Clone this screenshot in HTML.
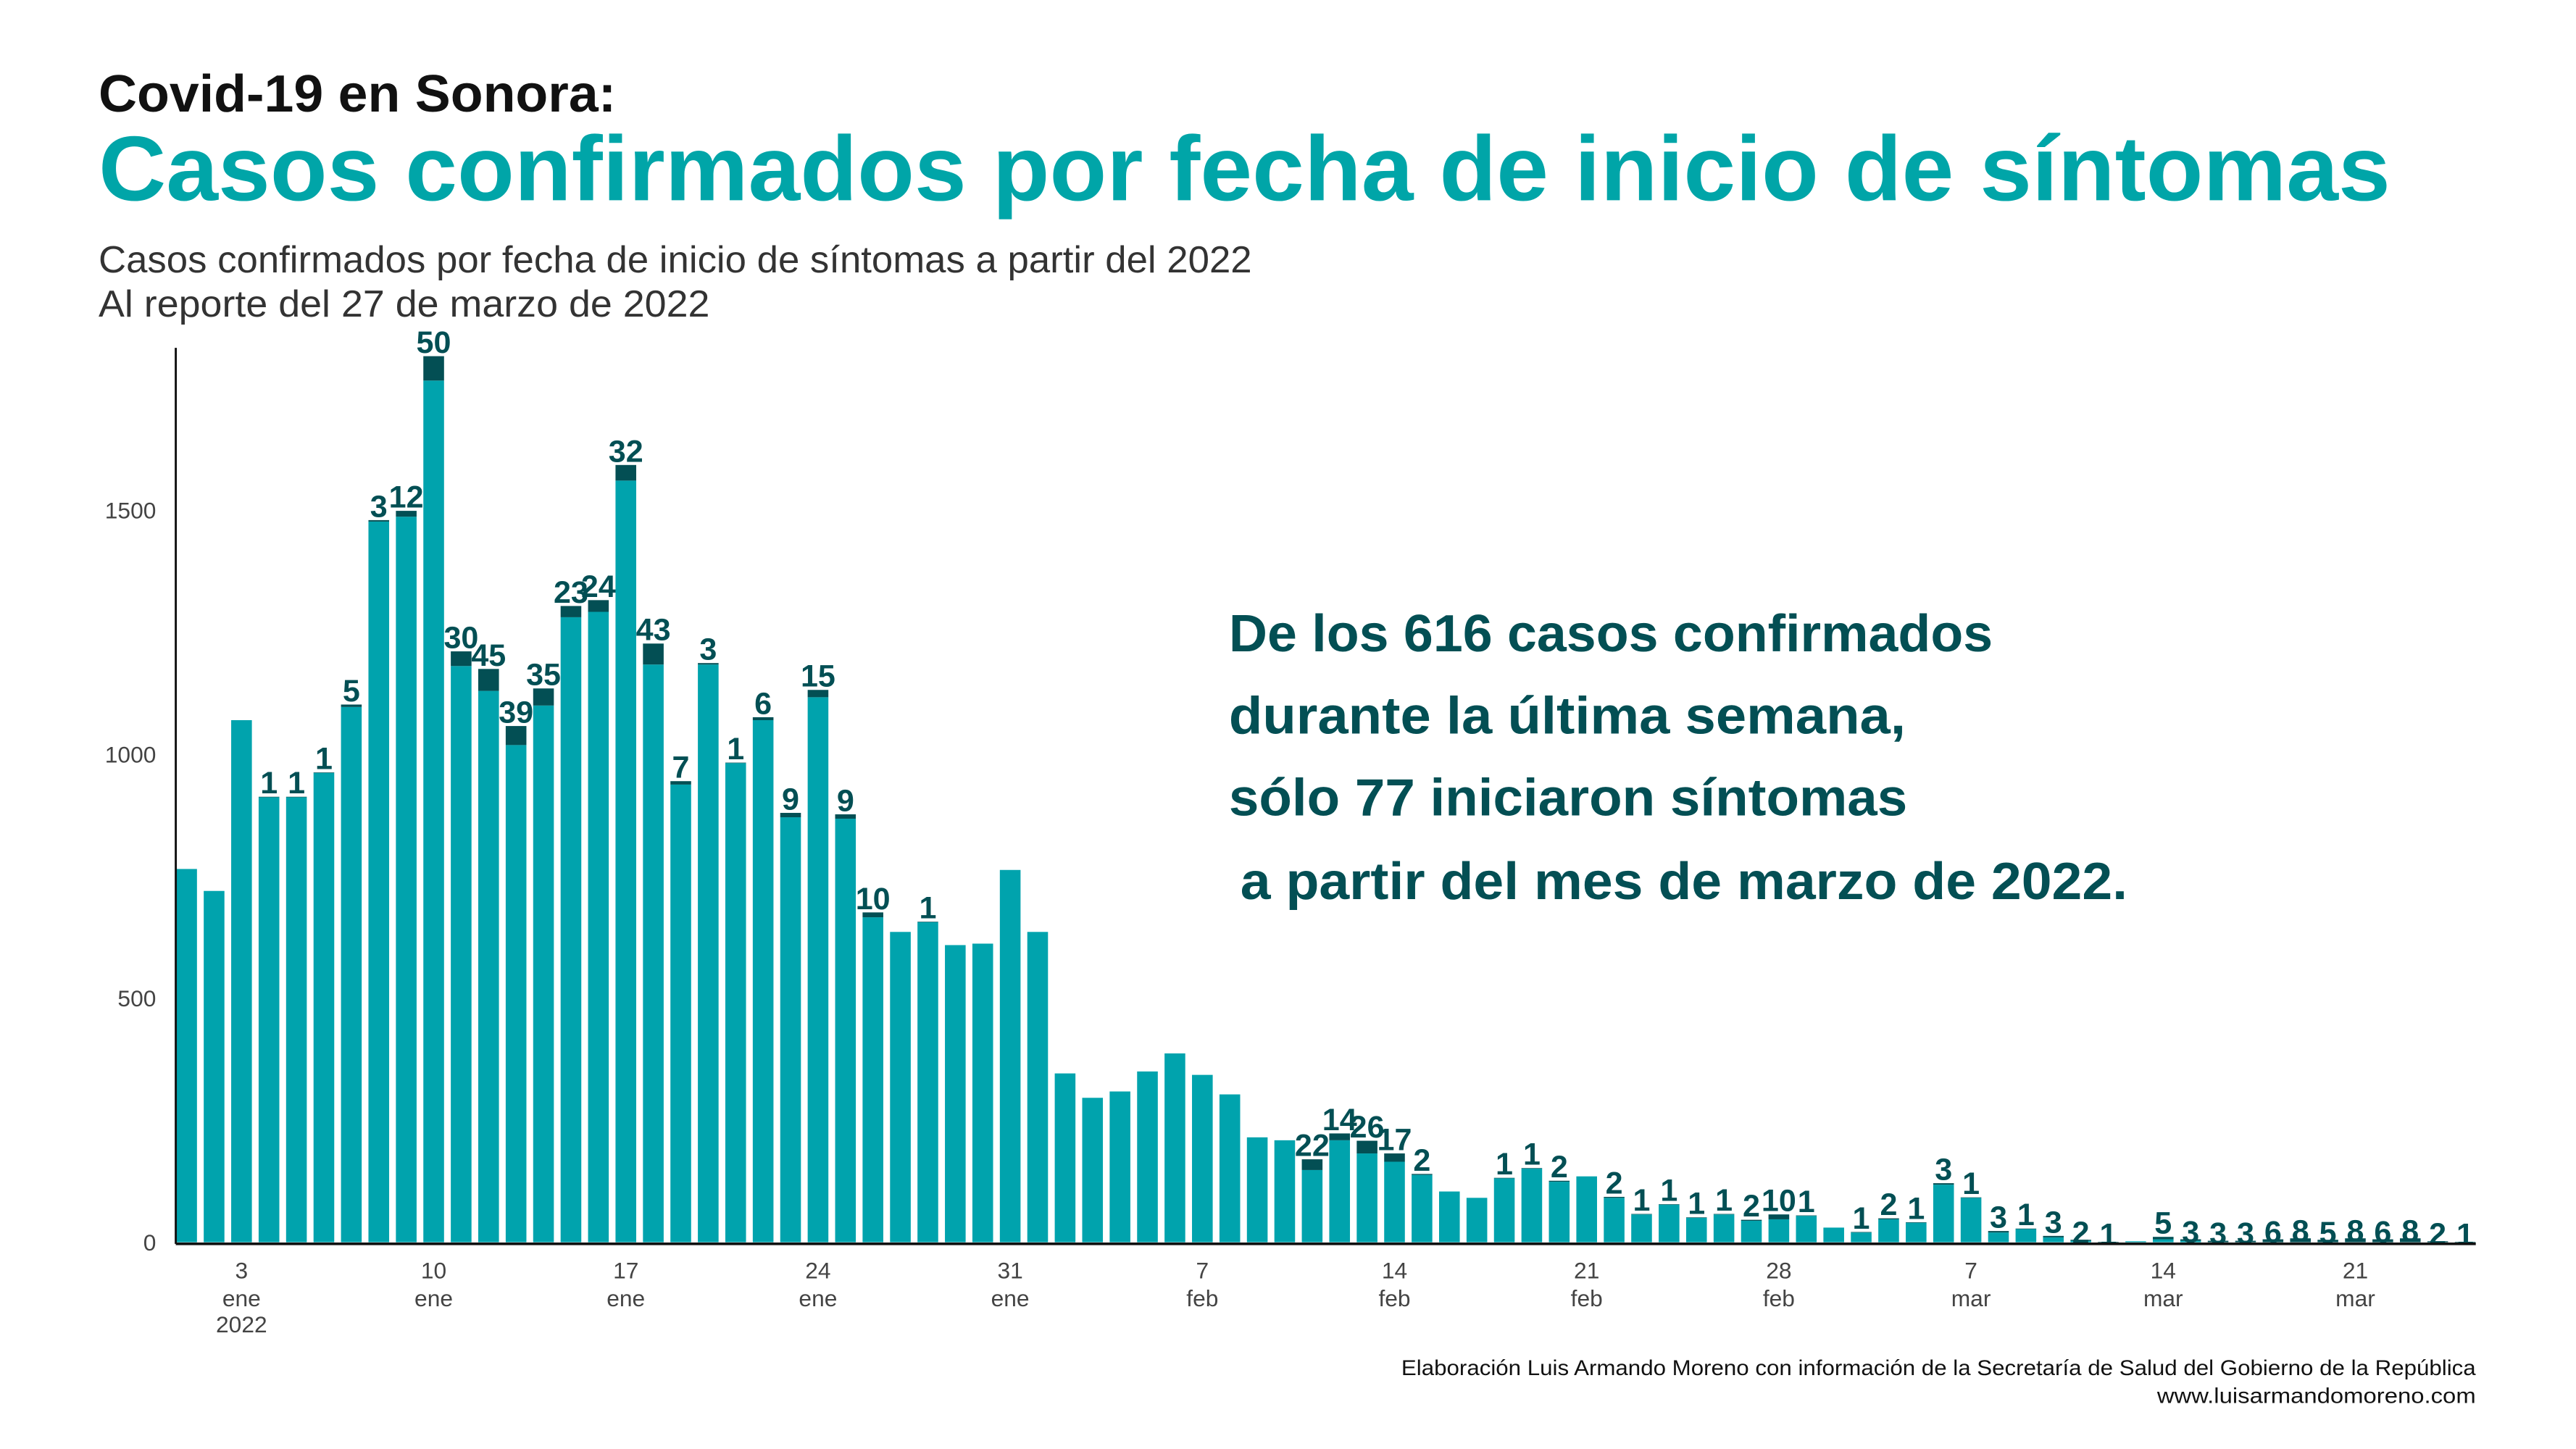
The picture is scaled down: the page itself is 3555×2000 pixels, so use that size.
<!DOCTYPE html>
<html><head><meta charset="utf-8"><style>
html,body{margin:0;padding:0;background:#fff;}
svg{display:block;}
text{font-family:"Liberation Sans",sans-serif;}
</style></head><body>
<svg id="chart" width="3555" height="2000" viewBox="0 0 1568 883" preserveAspectRatio="none" xmlns="http://www.w3.org/2000/svg">
<text x="60" y="68" font-size="32" font-weight="bold" fill="#111" textLength="315" lengthAdjust="spacingAndGlyphs">Covid-19 en Sonora:</text>
<text x="60" y="122" font-size="56" font-weight="bold" fill="#00a5a8" textLength="1395" lengthAdjust="spacingAndGlyphs">Casos confirmados por fecha de inicio de síntomas</text>
<text x="60" y="166" font-size="23" fill="#333" textLength="702" lengthAdjust="spacingAndGlyphs">Casos confirmados por fecha de inicio de síntomas a partir del 2022</text>
<text x="60" y="193" font-size="23" fill="#333" textLength="372" lengthAdjust="spacingAndGlyphs">Al reporte del 27 de marzo de 2022</text>
<g font-size="32" font-weight="bold" fill="#034f54">
<text x="748" y="397" textLength="465" lengthAdjust="spacingAndGlyphs">De los 616 casos confirmados</text>
<text x="748" y="447" textLength="412" lengthAdjust="spacingAndGlyphs">durante la última semana,</text>
<text x="748" y="497" textLength="413" lengthAdjust="spacingAndGlyphs">sólo 77 iniciaron síntomas</text>
<text x="755" y="548" textLength="540" lengthAdjust="spacingAndGlyphs">a partir del mes de marzo de 2022.</text>
</g>
<g font-size="13" fill="#111" text-anchor="end">
<text x="1507" y="838" textLength="654" lengthAdjust="spacingAndGlyphs">Elaboración Luis Armando Moreno con información de la Secretaría de Salud del Gobierno de la República</text>
<text x="1507" y="855" textLength="194" lengthAdjust="spacingAndGlyphs">www.luisarmandomoreno.com</text>
</g>
<g id="plot"></g>
</svg>
<script>
const teal = [765,720,1070,912,912,962,1097,1477,1487,1766,1181,1130,1019,1100,1281,1292,1561,1184,938,1184,982,1070,871,1117,868,666,636,656,609,612,763,636,
346,296,309,350,387,343,303,215,209,148,209,182,165,138,104,91,131,151,124,135,91,57,77,50,57,44,47,54,
30,20,47,40,118,91,20,27,10,3,0,2,6,3,0,0,0,0,0,0,0,0,0,0];
const recent = [0,0,0,1,1,1,5,3,12,50,30,45,39,35,23,24,32,43,7,3,1,6,9,15,9,10,0,1,0,0,0,0,
0,0,0,0,0,0,0,0,0,22,14,26,17,2,0,0,1,1,2,0,2,1,1,1,1,2,10,1,
0,1,2,1,3,1,3,1,3,2,1,0,5,3,3,3,6,8,5,8,6,8,2,1];
const yTicks = [0,500,1000,1500];
const xTickDays = [2,9,16,23,30,37,44,51,58,65,72,79];
const xTickDay = ["3","10","17","24","31","7","14","21","28","7","14","21"];
const xTickMonth = ["ene","ene","ene","ene","ene","feb","feb","feb","feb","mar","mar","mar"];

const NS="http://www.w3.org/2000/svg";
const plot=document.getElementById('plot');
const base=757, ppu=0.29733, x0=113.6, step=16.71, bw=12.6;
const xs=i=>x0+i*step;
const ys=v=>base-v*ppu;
function mk(tag,attrs,txt){const e=document.createElementNS(NS,tag);for(const k in attrs)e.setAttribute(k,attrs[k]);if(txt!==undefined)e.textContent=txt;plot.appendChild(e);return e;}

yTicks.forEach((t,i)=>{
  const e=mk('text',{x:95,y:ys(t)+5,'font-size':14,fill:'#444','text-anchor':'end'},String(t));
  
  
});
teal.forEach((v,i)=>{
  const r=mk('rect',{x:xs(i)-bw/2,y:ys(v),width:bw,height:Math.max(0,v*ppu),fill:'#00a3ad'});
  
  
  const d=recent[i];
  if(d>0){
    const top=ys(v+d);
    const r2=mk('rect',{x:xs(i)-bw/2,y:top,width:bw,height:d*ppu,fill:'#034f54'});
    
    
    const ly=Math.min(top,base)-2+(v<5?4:0);
    const l=mk('text',{x:xs(i),y:ly,'font-size':19,'font-weight':'bold',fill:'#034f54','text-anchor':'middle'},String(d));
    
    
  }
});
const ax=mk('line',{x1:107,y1:212,x2:107,y2:758,stroke:'#111','stroke-width':1.3});


const bx=mk('line',{x1:107,y1:758,x2:1507,y2:758,stroke:'#111','stroke-width':1.6});


xTickDays.forEach((d,i)=>{
  const a=mk('text',{x:xs(d),y:779,'font-size':14,fill:'#444','text-anchor':'middle'},xTickDay[i]);
  
  
  const b=mk('text',{x:xs(d),y:796,'font-size':14,fill:'#444','text-anchor':'middle'},xTickMonth[i]);
  
  
});
const yr=mk('text',{x:xs(2),y:812,'font-size':14,fill:'#444','text-anchor':'middle'},'2022');


</script>
</body></html>
